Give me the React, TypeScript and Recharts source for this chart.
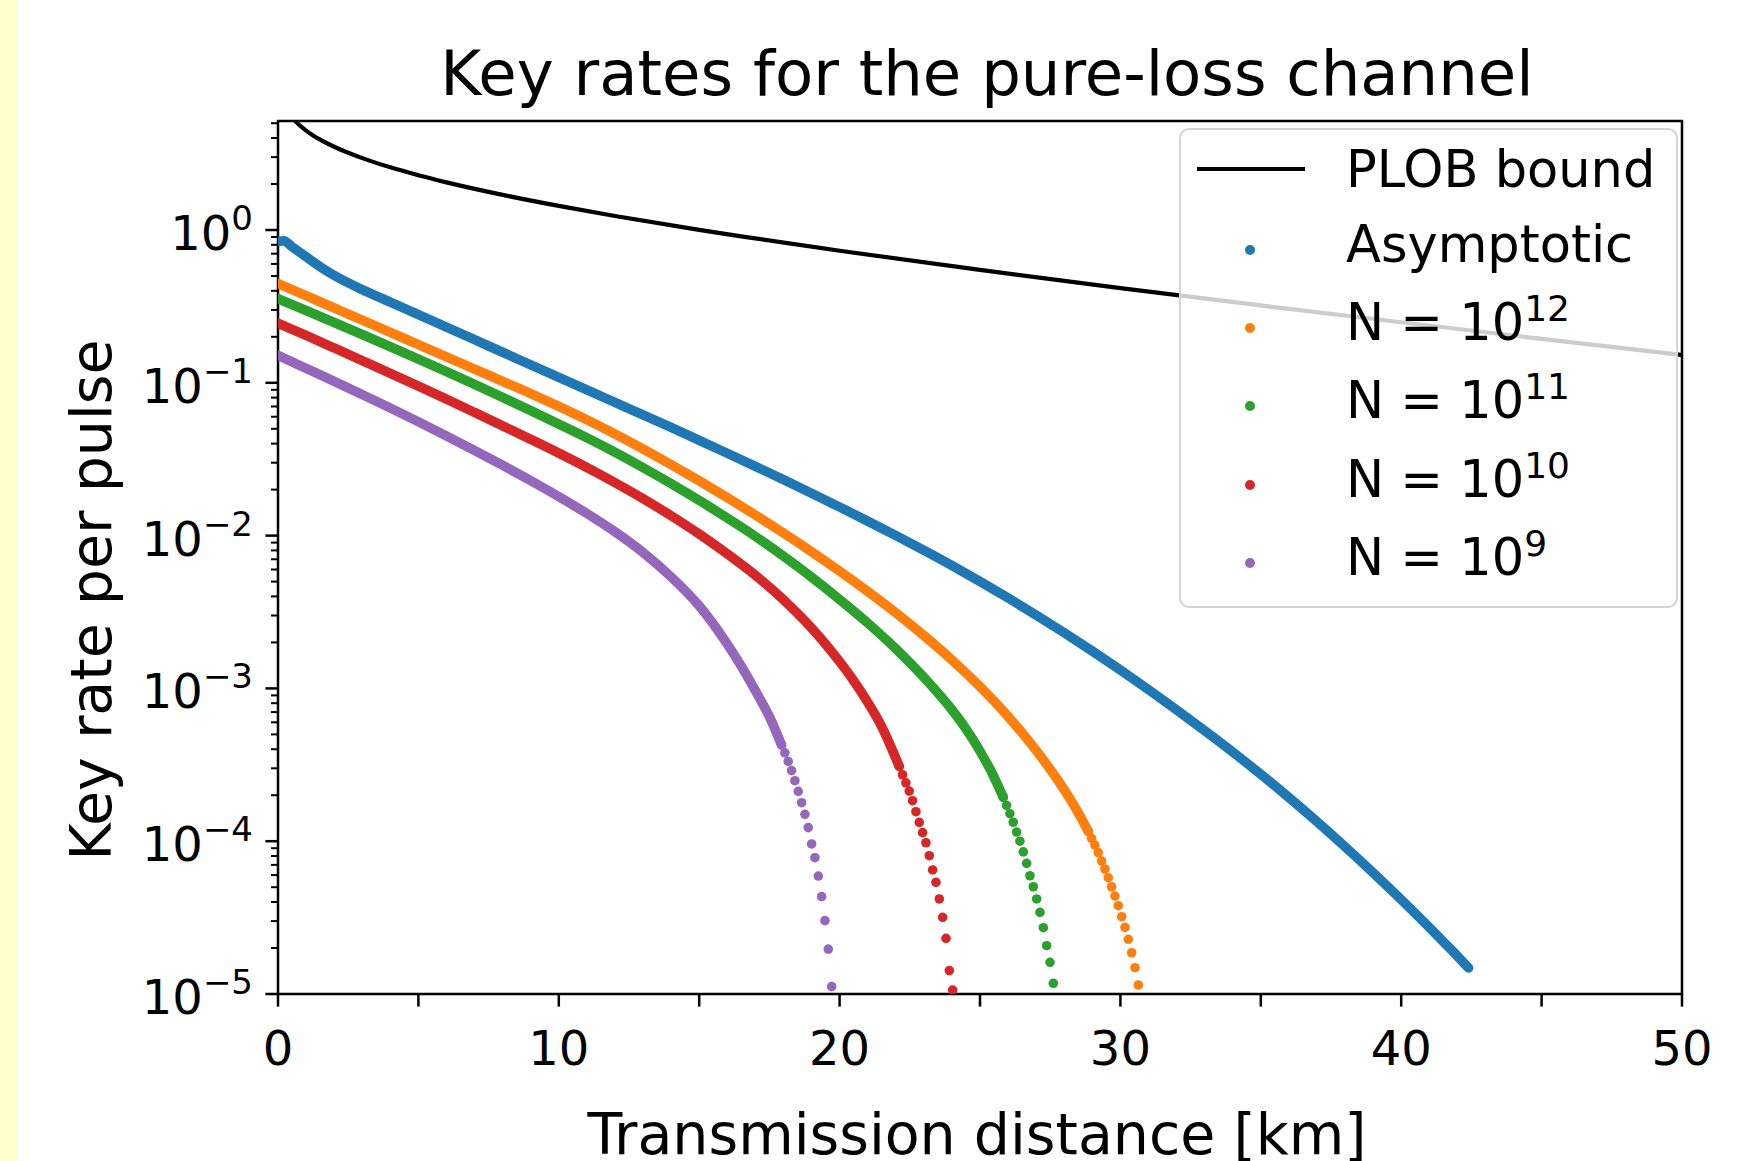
import { ComposedChart, Line, Scatter, XAxis, YAxis, ReferenceArea, Legend } from 'recharts'

const FONT = '"DejaVu Sans", sans-serif'
const X_TICKS = [0, 5, 10, 15, 20, 25, 30, 35, 40, 45, 50]
const Y_MAJOR = [1e-5, 1e-4, 1e-3, 1e-2, 1e-1, 1]
const Y_MINOR_STEPS = [2, 3, 4, 5, 6, 7, 8, 9]
const Y_TOP = 5.17

// PLOB bound: [km, key rate]
const plob: [number, number][] = [
  [0.5, 5.457], [0.6, 5.198], [0.75, 4.88], [1, 4.474], [1.25, 4.16], [1.5, 3.905], [2, 3.507],
  [2.5, 3.201], [3, 2.954], [4, 2.571], [5, 2.282], [6, 2.05], [8, 1.698], [10, 1.438], [12, 1.236],
  [15, 1.003], [20, 0.732], [25, 0.548], [30, 0.417], [35, 0.321], [40, 0.249], [45, 0.194], [50, 0.152],
]

// the rest: [km, log10(key rate)]
const asymptoticLog: [number, number][] = [
  [0, -0.075], [0.2, -0.07], [0.5, -0.11], [1, -0.175], [1.5, -0.24], [2, -0.297], [3, -0.39], [4, -0.472],
  [5, -0.554], [6, -0.636], [7, -0.718], [8, -0.8], [9, -0.882], [10, -0.964], [11, -1.046], [12, -1.128],
  [13, -1.21], [14, -1.292], [15, -1.376], [16, -1.461], [17, -1.547], [18, -1.634], [19, -1.723], [20, -1.813],
  [21, -1.905], [22, -1.999], [23, -2.096], [24, -2.196], [25, -2.3], [26, -2.408], [27, -2.52], [28, -2.636],
  [29, -2.756], [30, -2.88], [31, -3.008], [32, -3.14], [33, -3.276], [34, -3.416], [35, -3.562], [36, -3.714],
  [37, -3.872], [38, -4.036], [39, -4.206], [40, -4.382], [41, -4.564], [41.5, -4.658], [42, -4.752], [42.4, -4.83],
]

const n12Log: [number, number][] = [
  [0, -0.35], [1, -0.43], [2, -0.51], [3, -0.59], [4, -0.67], [5, -0.75], [6, -0.83], [7, -0.91], [8, -0.99],
  [9, -1.07], [10, -1.154], [11, -1.242], [12, -1.335], [13, -1.433], [14, -1.535], [15, -1.641], [16, -1.751],
  [17, -1.865], [18, -1.983], [19, -2.105], [20, -2.232], [21, -2.365], [22, -2.505], [23, -2.654], [24, -2.814],
  [25, -2.989], [26, -3.184], [27, -3.406], [28, -3.664], [28.5, -3.814], [28.854, -3.935],
]
const n12Tail: [number, number][] = [
  [28.854, -3.935], [28.973, -3.981], [29.092, -4.025], [29.211, -4.075], [29.33, -4.13], [29.449, -4.182],
  [29.568, -4.239], [29.687, -4.298], [29.806, -4.359], [29.925, -4.422], [30.044, -4.494], [30.163, -4.564],
  [30.282, -4.642], [30.401, -4.73], [30.52, -4.828], [30.639, -4.941],
]

const n11Log: [number, number][] = [
  [0, -0.45], [1, -0.527], [2, -0.605], [3, -0.684], [4, -0.764], [5, -0.845], [6, -0.927], [7, -1.01],
  [8, -1.095], [9, -1.182], [10, -1.27], [11, -1.36], [12, -1.455], [13, -1.555], [14, -1.66], [15, -1.77],
  [16, -1.885], [17, -2.005], [18, -2.135], [19, -2.272], [20, -2.418], [21, -2.572], [22, -2.74], [23, -2.927],
  [24, -3.14], [24.5, -3.265], [25, -3.41], [25.5, -3.58], [25.827, -3.712],
]
const n11Tail: [number, number][] = [
  [25.827, -3.712], [25.946, -3.765], [26.065, -3.82], [26.184, -3.876], [26.303, -3.94], [26.422, -4.0],
  [26.541, -4.07], [26.66, -4.145], [26.779, -4.226], [26.898, -4.298], [27.017, -4.378], [27.136, -4.466],
  [27.255, -4.566], [27.374, -4.684], [27.493, -4.793], [27.612, -4.93],
]

const n10Log: [number, number][] = [
  [0, -0.61], [1, -0.69], [2, -0.772], [3, -0.855], [4, -0.938], [5, -1.022], [6, -1.107], [7, -1.194],
  [8, -1.282], [9, -1.37], [10, -1.46], [11, -1.554], [12, -1.653], [13, -1.758], [14, -1.87], [15, -1.99],
  [16, -2.12], [17, -2.26], [18, -2.42], [19, -2.605], [19.5, -2.71], [20, -2.825], [20.5, -2.95],
  [21, -3.09], [21.5, -3.25], [21.8, -3.37], [22.123, -3.51],
]
const n10Tail: [number, number][] = [
  [22.123, -3.51], [22.242, -3.565], [22.361, -3.618], [22.48, -3.672], [22.599, -3.735], [22.718, -3.807],
  [22.837, -3.877], [22.956, -3.944], [23.075, -4.01], [23.194, -4.095], [23.313, -4.188], [23.432, -4.269],
  [23.551, -4.378], [23.67, -4.498], [23.789, -4.636], [23.908, -4.847], [24.027, -4.974],
]

const n9Log: [number, number][] = [
  [0, -0.82], [1, -0.905], [2, -0.99], [3, -1.077], [4, -1.165], [5, -1.255], [6, -1.348], [7, -1.443],
  [8, -1.54], [9, -1.64], [10, -1.745], [11, -1.855], [12, -1.975], [13, -2.11], [14, -2.27], [15, -2.46],
  [16, -2.71], [16.5, -2.855], [17, -3.015], [17.5, -3.185], [17.932, -3.37],
]
const n9Tail: [number, number][] = [
  [17.932, -3.37], [18.051, -3.422], [18.17, -3.478], [18.289, -3.538], [18.408, -3.604], [18.527, -3.674],
  [18.646, -3.748], [18.765, -3.824], [18.884, -3.911], [19.003, -4.018], [19.122, -4.108], [19.241, -4.228],
  [19.36, -4.363], [19.479, -4.52], [19.598, -4.706], [19.717, -4.952],
]

const SERIES = [
  { key: 'asym', label: 'Asymptotic', sup: '', color: '#1f77b4', line: asymptoticLog, tail: [] as [number, number][] },
  { key: 'n12', label: 'N = 10', sup: '12', color: '#ff7f0e', line: n12Log, tail: n12Tail },
  { key: 'n11', label: 'N = 10', sup: '11', color: '#2ca02c', line: n11Log, tail: n11Tail },
  { key: 'n10', label: 'N = 10', sup: '10', color: '#d62728', line: n10Log, tail: n10Tail },
  { key: 'n9', label: 'N = 10', sup: '9', color: '#9467bd', line: n9Log, tail: n9Tail },
]

const fromLog = (rows: [number, number][]) => rows.map(([x, l]) => ({ x, y: 10 ** l }))
const plobData = plob.map(([x, y]) => ({ x, y }))

const yTicks = [
  ...Y_MAJOR,
  ...Y_MAJOR.flatMap((m) => Y_MINOR_STEPS.map((k) => k * m)).filter((v) => v <= Y_TOP),
]

const supText = (e: number) => (e < 0 ? '\u2212' + -e : String(e))

function YTick(props: any) {
  const { x, y, payload } = props
  const lg = Math.log10(payload.value)
  const exp = Math.round(lg)
  if (Math.abs(lg - exp) > 1e-6) {
    return <line x1={x - 7} x2={x} y1={y} y2={y} stroke="#000" strokeWidth={2} />
  }
  return (
    <g>
      <line x1={x - 12.6} x2={x} y1={y} y2={y} stroke="#000" strokeWidth={2.5} />
      <text x={x - 25} y={y + 20} textAnchor="end" fontSize={48} fill="#000">
        10<tspan dy={-20} fontSize={34}>{supText(exp)}</tspan>
      </text>
    </g>
  )
}

function XTick(props: any) {
  const { x, y, payload } = props
  const v = payload.value
  return (
    <g>
      <line x1={x} x2={x} y1={y} y2={y + 12.6} stroke="#000" strokeWidth={2.5} />
      {v % 10 === 0 && (
        <text x={x} y={y + 71} textAnchor="middle" fontSize={48} fill="#000">{v}</text>
      )}
    </g>
  )
}

const XLabel = (p: any) => {
  const vb = p.viewBox
  return (
    <text x={vb.x + vb.width / 2 - 3} y={1154} textAnchor="middle" fontSize={57} fill="#000">
      Transmission distance [km]
    </text>
  )
}

const YLabel = () => (
  <text x={111} y={600} transform="rotate(-90 111 600)" textAnchor="middle" fontSize={57} fill="#000">
    Key rate per pulse
  </text>
)

const ROW_Y = [41, 122, 200, 278, 357, 435]

function LegendBox() {
  const textStyle = (cy: number) => ({
    position: 'absolute' as const, left: 165, top: cy - 24.5, fontSize: 51, lineHeight: '51px', whiteSpace: 'nowrap' as const,
  })
  return (
    <div style={{
      position: 'relative', width: 499, height: 480, boxSizing: 'border-box', border: '2.5px solid #d4d4d4',
      borderRadius: 10, background: 'rgba(255,255,255,0.8)', fontFamily: FONT, color: '#000',
    }}>
      <div style={{ position: 'absolute', left: 16, top: ROW_Y[0] - 2.5 - 2, width: 108, height: 4, background: '#000' }} />
      <div style={textStyle(ROW_Y[0] - 2.5)}>PLOB bound</div>
      {SERIES.map((s, i) => {
        const cy = ROW_Y[i + 1] - 2.5
        return (
          <div key={s.key}>
            <div style={{ position: 'absolute', left: 64, top: cy - 5, width: 10, height: 10, borderRadius: '50%', background: s.color }} />
            <div style={textStyle(cy - 6)}>
              {s.label}
              {s.sup && <span style={{ fontSize: 36, position: 'relative', top: -19 }}>{s.sup}</span>}
            </div>
          </div>
        )
      })}
    </div>
  )
}

const Dot = (color: string) => (p: any) => <circle cx={p.cx} cy={p.cy} r={4.8} fill={color} />

export default function App() {
  return (
    <div style={{ position: 'absolute', left: 0, top: 0, width: 1757, height: 1161, background: '#fff', fontFamily: FONT, overflow: 'hidden' }}>
      <div style={{ position: 'absolute', left: 0, top: 0, width: 17, height: 1161, background: '#ffffcc', zIndex: 2 }} />
      <div style={{ position: 'absolute', left: 987, top: 43, transform: 'translateX(-50%)', fontSize: 62.5, lineHeight: '62px', whiteSpace: 'nowrap', color: '#000' }}>
        Key rates for the pure-loss channel
      </div>
      <ComposedChart width={1757} height={1161} margin={{ top: 121, right: 75, bottom: 0, left: 0 }}>
        <XAxis
          dataKey="x" type="number" domain={[0, 50]} ticks={X_TICKS} interval={0} allowDataOverflow
          tick={XTick} tickLine={false} tickSize={0} tickMargin={0} axisLine={false} height={167}
          label={{ content: XLabel }}
        />
        <YAxis
          dataKey="y" type="number" scale="log" domain={[1e-5, Y_TOP]} allowDataOverflow ticks={yTicks} interval={0}
          tick={YTick} tickLine={false} tickSize={0} tickMargin={0} axisLine={false} width={278}
          label={{ content: YLabel }}
        />
        <Legend
          content={() => <LegendBox />} layout="horizontal" verticalAlign="middle" align="center"
          wrapperStyle={{ left: 1179, top: 128, width: 499, height: 480 }}
        />
        {SERIES.map((s) => (
          <Line
            key={s.key + '-line'} data={fromLog(s.line)} dataKey="y" type="monotone" stroke={s.color}
            strokeWidth={9.6} strokeLinecap="round" strokeLinejoin="round" dot={false} activeDot={false}
            isAnimationActive={false} legendType="none"
          />
        ))}
        {SERIES.filter((s) => s.tail.length).map((s) => (
          <Scatter
            key={s.key + '-dots'} data={fromLog(s.tail)} dataKey="y" fill={s.color} shape={Dot(s.color)}
            isAnimationActive={false} legendType="none"
          />
        ))}
        <Line
          data={plobData} dataKey="y" type="monotone" stroke="#000" strokeWidth={4.2} dot={false} activeDot={false}
          isAnimationActive={false} legendType="none"
        />
        <ReferenceArea x1={0} x2={50} y1={1e-5} y2={Y_TOP} fill="none" stroke="#000" strokeWidth={2.5} ifOverflow="visible" />
      </ComposedChart>
    </div>
  )
}
